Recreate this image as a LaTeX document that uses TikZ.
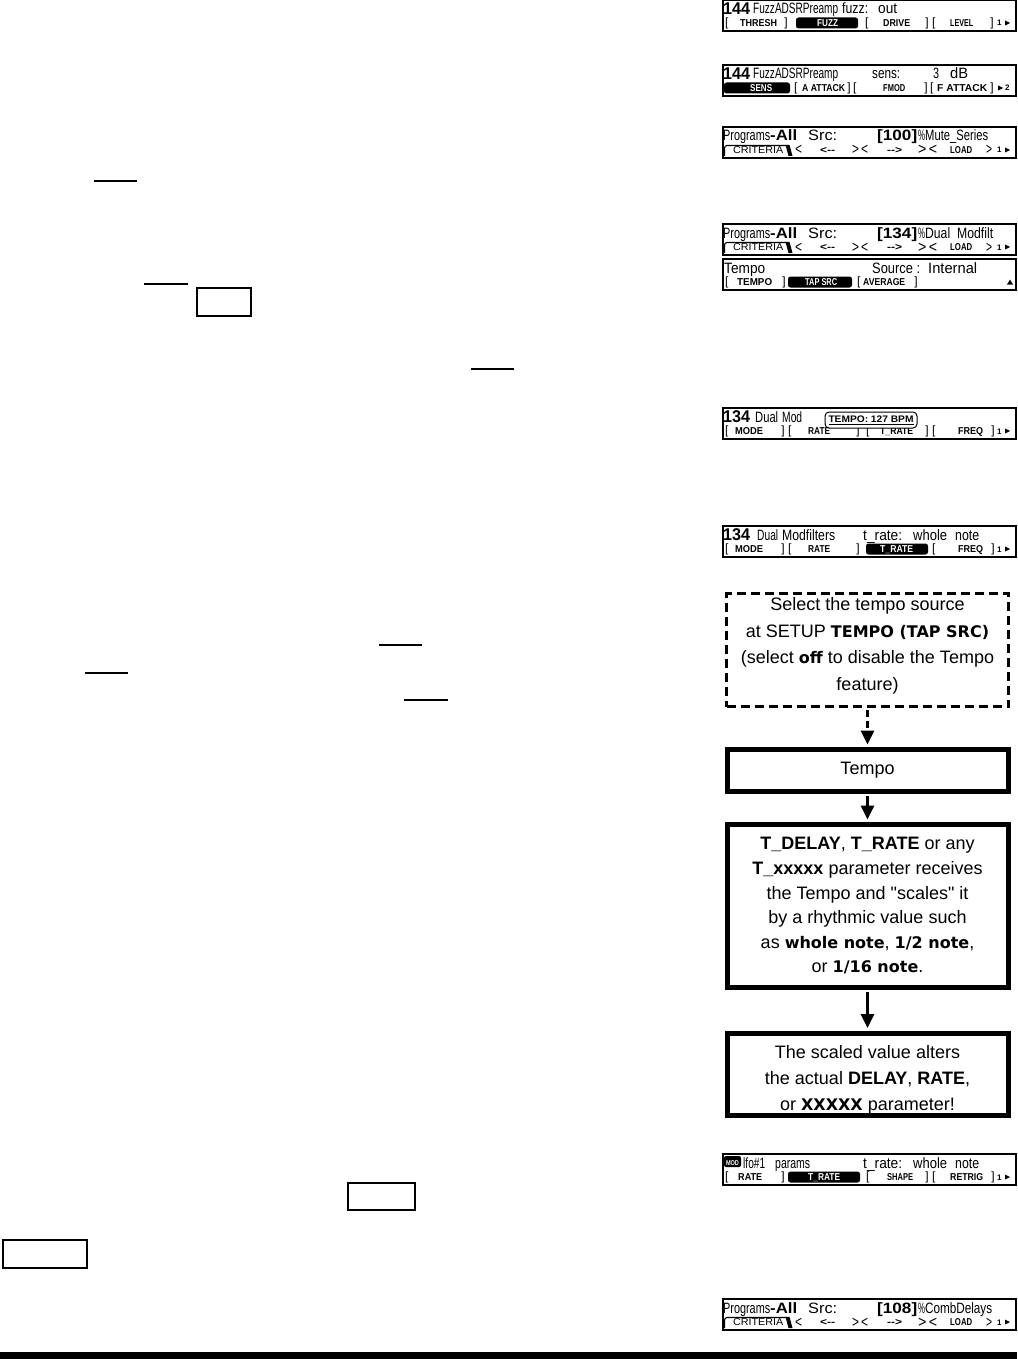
\documentclass[tikz,border=0pt]{standalone}
\usepackage{fontspec}
\usepackage{graphicx}
\setmainfont{Liberation Sans}
\newfontfamily\dvs{DejaVu Sans}
\newfontfamily\qf{Liberation Sans}
\usetikzlibrary{arrows.meta}
\newcounter{nn}
\newcommand{\nx}{\stepcounter{nn}}
\tikzset{
  lcd/.style={draw, line width=1.2pt, minimum width=293pt, minimum height=31pt, inner sep=0pt},
  rowa/.style={inner sep=0pt, anchor=base west, font=\fontsize{15}{15}\selectfont},
  rowb/.style={inner sep=0pt, anchor=base west, font=\fontsize{10}{10}\selectfont\bfseries},
  brk/.style={inner sep=0pt, font=\fontsize{12}{12}\selectfont},
  bignum/.style={inner sep=0pt, anchor=base west, font=\fontsize{17}{17}\selectfont\bfseries},
  fbox/.style={draw, line width=5pt, minimum width=281pt, align=center, inner sep=0pt, font=\fontsize{18}{24.6}\selectfont},
  dbox/.style={draw, line width=3pt, dash pattern=on 9pt off 5pt, minimum width=282pt, align=center, inner sep=0pt, font=\fontsize{18}{26.7}\selectfont},
  conn/.style={line width=3pt, -{Triangle[width=13pt,length=14pt]}, shorten >=2.5pt, shorten <=2pt},
  uline/.style={line width=1.2pt},
}
\newcommand{\lbf}[1]{{\dvs\bfseries\fontsize{16}{16}\selectfont #1}}
\newcommand{\qt}{{\qf\symbol{34}}}
% row-1 words
\newcommand{\wa}[4]{\nx\node[rowa] (t\thenn) at (#1,#3+14) {\resizebox{\dimexpr #2pt-#1pt\relax}{\height}{#4}};}
\newcommand{\wb}[4]{\nx\node[rowa] (t\thenn) at (#1,#3+14) {\resizebox{\dimexpr #2pt-#1pt\relax}{\height}{\bfseries #4}};}
\newcommand{\num}[2]{\nx\node[bignum] (t\thenn) at (723,#1+14.5) {\resizebox{27pt}{\height}{#2}};}
% row-2
\newcommand{\lb}[4]{\nx\node[rowb] (t\thenn) at (#1,#3+26.5) {\resizebox{\dimexpr #2pt-#1pt\relax}{\height}{#4}};}
\newcommand{\lr}[4]{\nx\node[rowb,font=\fontsize{10}{10}\selectfont] (t\thenn) at (#1,#3+26.5) {\resizebox{\dimexpr #2pt-#1pt\relax}{\height}{#4}};}
\newcommand{\ob}[2]{\nx\node[brk,anchor=base west] (t\thenn) at (#1,#2+26.5) {[};}
\newcommand{\cb}[2]{\nx\node[brk,anchor=base east] (t\thenn) at (#1,#2+26.5) {]};}
\newcommand{\hl}[6]{\fill[rounded corners=2.5pt] (#1,#3+17.5) rectangle (#2,#3+28.5);
  \nx\node[rowb,text=white] (t\thenn) at (#4,#3+26.5) {\resizebox{\dimexpr #5pt-#4pt\relax}{\height}{#6}};}
\newcommand{\chev}[4]{\nx\node[brk,anchor=base west,font=\fontsize{16}{16}\selectfont] (t\thenn) at (#1,#3+28) {\resizebox{\dimexpr #2pt-#1pt\relax}{\height}{#4}};}
\newcommand{\pga}[1]{\nx\node[rowb,font=\fontsize{8}{8}\selectfont\bfseries] (t\thenn) at (997,#1+26) {1};
  \fill (1005,#1+20.5) -- (1010,#1+23) -- (1005,#1+25.5) -- cycle;}
\newcommand{\pgb}[1]{\fill (998,#1+20.5) -- (1003,#1+23) -- (998,#1+25.5) -- cycle;
  \nx\node[rowb,font=\fontsize{8}{8}\selectfont\bfseries] (t\thenn) at (1005,#1+26) {2};}
\newcommand{\lcdf}[2]{\node[lcd] (#1) at (869.5,#2+15.5) {};}
\newcommand{\progA}[3]{%
  \lcdf{#1}{#2}
  \wa{723}{770}{#2}{Programs}
  \wb{770}{797}{#2}{-All}
  \wa{808}{837}{#2}{Src:}
  \wb{877}{917}{#2}{[#3]}
  \wa{918}{925}{#2}{\%}
  \draw[line width=1.1pt, rounded corners=2.5pt] (724.5,#2+29) -- (724.5,#2+18.5) -- (787,#2+18.5);
  \fill (785.5,#2+17.9) -- (789.5,#2+17.9) -- (792.5,#2+29) -- (788.5,#2+29) -- cycle;
  \lr{733}{783}{#2}{CRITERIA}
  \chev{795}{802}{#2}{<}
  \lb{820}{835}{#2}{<-{}-}
  \chev{852}{868}{#2}{>\,<}
  \lb{887}{902}{#2}{-{}->}
  \chev{918}{937}{#2}{>\,<}
  \lb{950}{972}{#2}{LOAD}
  \chev{986}{992}{#2}{>}
  \pga{#2}
}
\begin{document}
\begin{tikzpicture}[x=1pt,y=-1pt]
\useasboundingbox (0,0) rectangle (1017,1359);

% ---------- LCD 1 ----------
\lcdf{lcdA}{0}
\num{0}{144}
\wa{753}{838}{0}{FuzzADSRPreamp}
\wa{842}{868}{0}{fuzz:}
\wa{878}{897}{0}{out}
\ob{725}{0} \lb{740}{777}{0}{THRESH} \cb{788}{0}
\hl{796}{858}{0}{817}{838}{FUZZ}
\ob{865}{0} \lb{883}{910}{0}{DRIVE} \cb{929}{0}
\ob{932}{0} \lb{950}{973}{0}{LEVEL} \cb{994}{0}
\pga{0}

% ---------- LCD 2 ----------
\lcdf{lcdB}{65}
\num{65}{144}
\wa{753}{838}{65}{FuzzADSRPreamp}
\wa{872}{900}{65}{sens:}
\wa{933}{939}{65}{3}
\wa{950}{968}{65}{dB}
\hl{724}{790}{65}{750}{772}{SENS}
\ob{794}{65} \lb{802}{845}{65}{A ATTACK} \cb{851}{65}
\ob{853}{65} \lb{883}{905}{65}{FMOD} \cb{928}{65}
\ob{930}{65} \lb{937}{987}{65}{F ATTACK} \cb{994}{65}
\pgb{65}

% ---------- LCD 3 ----------
\progA{lcdC}{127}{100}
\wa{925}{988}{127}{Mute\_Series}

% ---------- LCD 4 ----------
\progA{lcdD}{224}{134}
\wa{925}{950}{224}{Dual}
\wa{957}{993}{224}{Modfilt}

% ---------- LCD 5 ----------
\lcdf{lcdE}{259}
\wa{724}{765}{259}{Tempo}
\wa{872}{920}{259}{Source :}
\wa{928}{977}{259}{Internal}
\ob{725}{259} \lb{737}{772}{259}{TEMPO} \cb{786}{259}
\hl{788}{852}{259}{805}{837}{TAP SRC}
\ob{857}{259} \lb{863}{905}{259}{AVERAGE} \cb{918}{259}
\fill (1007,259+25.5) -- (1010,259+20.5) -- (1013,259+25.5) -- cycle;

% ---------- LCD 6 ----------
\lcdf{lcdF}{408}
\num{408}{134}
\wa{755}{778}{408}{Dual}
\wa{782}{802}{408}{Mod}
\ob{725}{408} \lb{735}{763}{408}{MODE} \cb{785}{408}
\ob{788}{408} \lb{808}{830}{408}{RATE} \cb{860}{408}
\ob{866}{408} \lb{880}{913}{408}{T\_RATE} \cb{929}{408}
\ob{932}{408} \lb{958}{983}{408}{FREQ} \cb{995}{408}
\pga{408}
\node[draw, fill=white, line width=1pt, rounded corners=4pt, minimum width=92pt, minimum height=16pt, inner sep=0pt, font=\fontsize{9.5}{9.5}\selectfont\bfseries] (pop) at (871,420) {\resizebox{85pt}{\height}{\underline{TEMPO: 127 BPM}}};

% ---------- LCD 7 ----------
\lcdf{lcdG}{526}
\num{526}{134}
\wa{757}{778}{526}{Dual}
\wa{782}{835}{526}{Modfilters}
\wa{863}{902}{526}{t\_rate:}
\wa{913}{947}{526}{whole}
\wa{955}{979}{526}{note}
\ob{725}{526} \lb{735}{763}{526}{MODE} \cb{785}{526}
\ob{788}{526} \lb{808}{830}{526}{RATE} \cb{860}{526}
\hl{866}{928}{526}{880}{913}{T\_RATE}
\ob{932}{526} \lb{958}{983}{526}{FREQ} \cb{995}{526}
\pga{526}

% ---------- LCD 8 ----------
\lcdf{lcdH}{1154}
\fill[rounded corners=2pt] (724,1154+2) rectangle (741,1154+13);
\node[inner sep=0pt, anchor=base, text=white, font=\fontsize{7}{7}\selectfont\bfseries] (modtag) at (732.5,1154+11) {\resizebox{13pt}{\height}{MOD}};
\wa{743}{765}{1154}{lfo\#1}
\wa{775}{810}{1154}{params}
\wa{863}{902}{1154}{t\_rate:}
\wa{913}{947}{1154}{whole}
\wa{955}{979}{1154}{note}
\ob{725}{1154} \lb{738}{762}{1154}{RATE} \cb{785}{1154}
\hl{788}{860}{1154}{808}{840}{T\_RATE}
\ob{866}{1154} \lb{887}{913}{1154}{SHAPE} \cb{929}{1154}
\ob{932}{1154} \lb{950}{983}{1154}{RETRIG} \cb{995}{1154}
\pga{1154}

% ---------- LCD 9 ----------
\progA{lcdI}{1299}{108}
\wa{925}{992}{1299}{CombDelays}

% ---------- flow chart ----------
\node[dbox, minimum height=113pt] (b1) at (867.5,650)
  {Select the tempo source\\at SETUP \lbf{TEMPO (TAP SRC)}\\(select \lbf{off} to disable the Tempo\\feature)\rule[-12pt]{0pt}{0pt}};
\node[fbox, minimum height=42pt] (b2) at (867.5,770.5) {Tempo};
\node[fbox, minimum height=163pt] (b3) at (867.5,906)
  {\textbf{T\_DELAY}, \textbf{T\_RATE} or any\\\textbf{T\_xxxxx} parameter receives\\the Tempo and \qt scales\qt{} it\\by a rhythmic value such\\as \lbf{whole note}, \lbf{1/2 note},\\or \lbf{1/16 note}.};
\node[fbox, minimum height=82pt, font=\fontsize{18}{26}\selectfont] (b4) at (867.5,1074)
  {\rule{0pt}{25pt}The scaled value alters\\the actual \textbf{DELAY}, \textbf{RATE},\\or \lbf{XXXXX} parameter!};
\draw[conn, dash pattern=on 7pt off 4pt] (b1.south) -- (b2.north);
\draw[conn] (b2.south) -- (b3.north);
\draw[conn] (b3.south) -- (b4.north);

% ---------- left-side marks ----------
\draw[uline] (94,181) -- (137,181);
\draw[uline] (144,284) -- (188,284);
\draw[uline] (197,288) rectangle (251,316);
\draw[uline] (471,369) -- (514,369);
\draw[uline] (379,645) -- (422,645);
\draw[line width=2.2pt] (85,673) -- (128,673);
\draw[uline] (404,700) -- (448,700);
\draw[uline] (348,1183) rectangle (415,1210);
\draw[uline] (3,1240) rectangle (87,1268);

% ---------- bottom bar ----------
\fill (0,1352) rectangle (1017,1359);
\end{tikzpicture}
\end{document}
